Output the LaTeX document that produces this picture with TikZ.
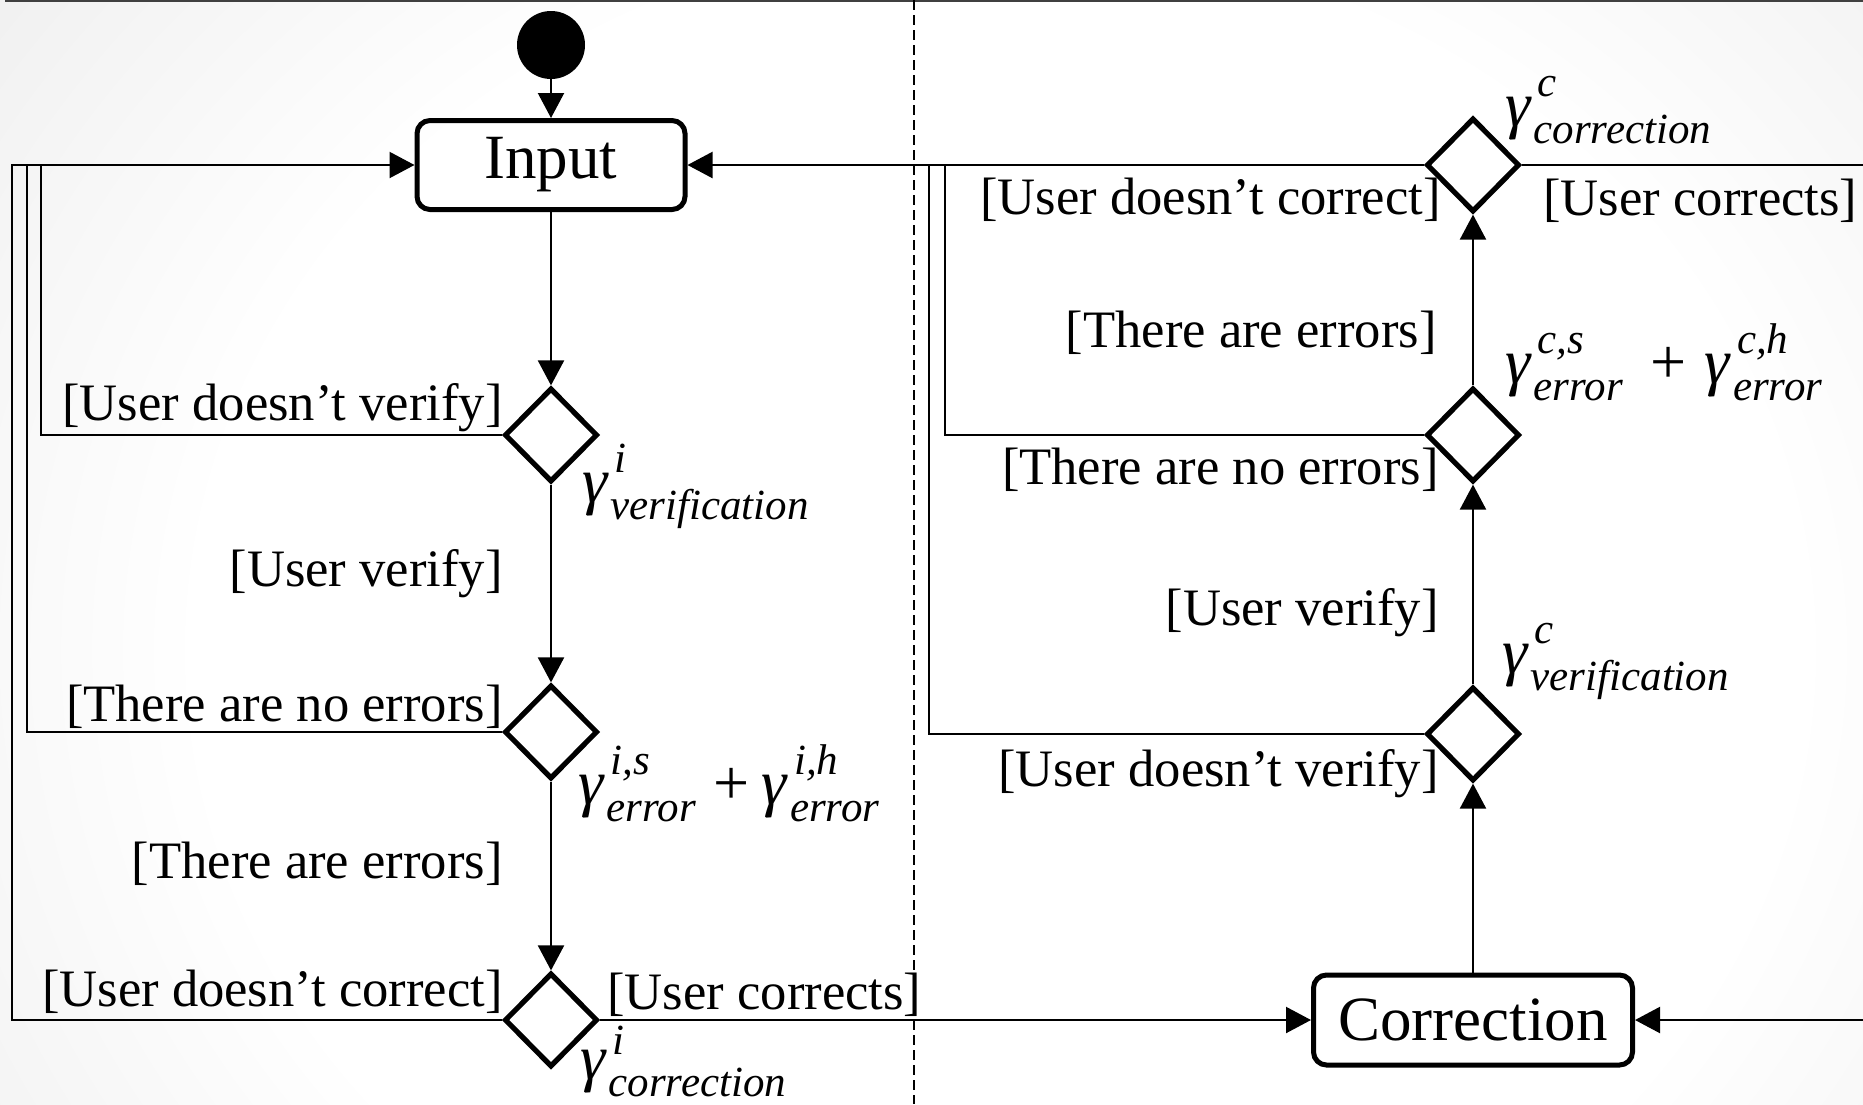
\documentclass[tikz,border=0pt]{standalone}
\usepackage{fontspec}
\setmainfont{Liberation Serif}
\usetikzlibrary{shapes.geometric,arrows.meta}

\definecolor{bgedge}{RGB}{200,200,200}
\definecolor{topline}{RGB}{64,64,64}
\pgfdeclareradialshading{paper}{\pgfpoint{0bp}{0bp}}{color(0bp)=(white); color(16bp)=(white); color(50bp)=(bgedge)}

% type sizes
\newcommand\lblfont{\fontsize{26.3}{30}\selectfont}
\newcommand\boxfont{\fontsize{31.5}{36}\selectfont}
\newcommand\scrfont{\fontsize{21.5}{22}\selectfont\itshape}
% gamma with stacked super- and subscript: [raise]{sup}{sub}
\newcommand\gsym[3][15pt]{{\fontsize{32}{32}\selectfont\itshape γ}\kern1.5pt\rlap{\kern2pt\raisebox{#1}{\scrfont #2}}\raisebox{-8.5pt}{\scrfont #3}}
\newcommand\gplus[2]{\hspace{#1}{\fontsize{32}{32}\selectfont +}\hspace{#2}}

\begin{document}
\begin{tikzpicture}[x=0.5pt, y=-0.5pt,
  actbox/.style={draw, rounded corners=6.5pt, line width=2.5pt, inner sep=0pt, font=\boxfont},
  choice/.style={diamond, draw, line width=2.6pt, minimum width=46.5pt, minimum height=47pt, inner sep=0pt},
  startnode/.style={circle, fill=black, minimum size=34pt, inner sep=0pt},
  wire/.style={line width=1.1pt},
  flow/.style={wire, -{Triangle[length=12.5pt,width=13pt]}},
  lane/.style={line width=0.6pt, dash pattern=on 5pt off 2.5pt},
  guard/.style={font=\lblfont, inner sep=0pt},
  gnote/.style={inner sep=0pt, anchor=base west}]

\useasboundingbox (0,0) rectangle (1863,1104);
\clip (0,0) rectangle (1863,1104);

% backdrop and frame line
\shade[shading=paper] (-250,-450) rectangle (2250,1750);
\fill[topline] (5,0) rectangle (1863,2);

% swimlane divider
\draw[lane] (914,0) -- (914,1104);

% activities and decisions
\node[startnode] (start) at (551,45) {};
\node[actbox, minimum width=134pt, minimum height=44.5pt] (input) at (551,165) {Input};
\node[choice] (d1) at (551,435) {};
\node[choice] (d2) at (551,732) {};
\node[choice] (d3) at (551,1020) {};
\node[choice] (r1) at (1473,165) {};
\node[choice] (r2) at (1473,435) {};
\node[choice] (r3) at (1473,734) {};
\node[actbox, minimum width=159.5pt, minimum height=45pt] (corr) at (1473,1020) {Correction};

% junction points of the return loops
\coordinate (l1) at (41,165);
\coordinate (l2) at (27,165);
\coordinate (l3) at (12,165);
\coordinate (m1) at (929,165);
\coordinate (m2) at (945,165);
\coordinate (rt) at (1890,165);

% main flow
\draw[flow] (start) -- (input);
\draw[flow] (input) -- (d1);
\draw[flow] (d1) -- (d2);
\draw[flow] (d2) -- (d3);
\draw[flow] (d3.east) -- (corr.west);
\draw[flow] (corr) -- (r3);
\draw[flow] (r3) -- (r2);
\draw[flow] (r2) -- (r1);

% loops back to Input
\draw[flow] (d1.west) -| (l1) -- (input.west);
\draw[wire] (d2.west) -| (l2) -- (l1);
\draw[wire] (d3.west) -| (l3) -- (l2);
\draw[flow] (r1.west) -- (input.east);
\draw[wire] (r2.west) -| (m2);
\draw[wire] (r3.west) -| (m1);
\draw[flow] (r1.east) -- (rt) |- (corr.east);

% guards, input lane
\node[guard, anchor=south east] at (503,432) {[User doesn’t verify]};
\node[guard, anchor=south east] at (503,598) {[User verify]};
\node[guard, anchor=south east] at (503,729) {[There are no errors]};
\node[guard, anchor=south east] at (503,886) {[There are errors]};
\node[guard, anchor=south east] at (503,1014) {[User doesn’t correct]};
\node[guard, anchor=south west] at (607,1017) {[User corrects]};

% guards, correction lane
\node[guard, anchor=north east] at (1441,178) {[User doesn’t correct]};
\node[guard, anchor=north west] at (1543,179) {[User corrects]};
\node[guard, anchor=south east] at (1437,355) {[There are errors]};
\node[guard, anchor=north east] at (1439,448) {[There are no errors]};
\node[guard, anchor=south east] at (1439,637) {[User verify]};
\node[guard, anchor=north east] at (1439,749) {[User doesn’t verify]};

% decision weights
\node[gnote] at (582,502) {\gsym{i}{verification}};
\node[gnote] at (578,804) {\gsym{i,s}{error}\gplus{9pt}{6pt}\gsym{i,h}{error}};
\node[gnote] at (580,1079) {\gsym[12.5pt]{i}{correction}};
\node[gnote] at (1505,126) {\gsym{c}{correction}};
\node[gnote] at (1505,383) {\gsym{c,s}{error}\gplus{14pt}{9pt}\gsym{c,h}{error}};
\node[gnote] at (1502,673) {\gsym{c}{verification}};
\end{tikzpicture}
\end{document}
